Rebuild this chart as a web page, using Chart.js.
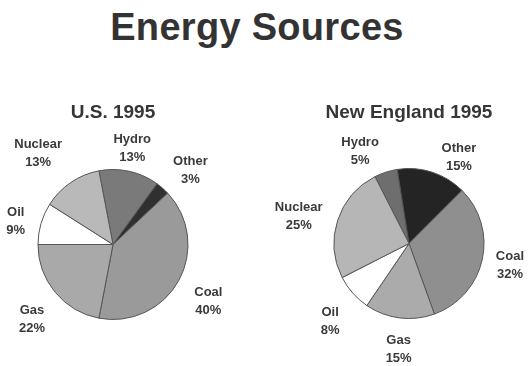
<!DOCTYPE html>
<html>
<head>
<meta charset="utf-8">
<title>Energy Sources</title>
<script src="https://cdn.jsdelivr.net/npm/chart.js@4.4.1/dist/chart.umd.min.js"></script>
<style>
  html, body { margin: 0; padding: 0; background: #fff; overflow: hidden; }
  body { width: 529px; height: 366px; position: relative; font-family: 'Liberation Sans', Arial, sans-serif; }
  h1 { position: absolute; left: 0; width: 514px; top: 6px; margin: 0; text-align: center;
       font-size: 38px; font-weight: bold; color: #333; letter-spacing: 0.3px; }
  .pie { position: absolute; top: 92px; height: 274px; }
  #usBox { left: 0; width: 240px; }
  #neBox { left: 265px; width: 264px; }
</style>
</head>
<body>
<h1>Energy Sources</h1>
<div class="pie" id="usBox"><canvas id="usChart"></canvas></div>
<div class="pie" id="neBox"><canvas id="neChart"></canvas></div>
<script>
// same category order for both pies, clockwise
const categories = ['Hydro', 'Other', 'Coal', 'Gas', 'Oil', 'Nuclear'];
const usShares = [13, 3, 40, 22, 9, 13];
const neShares = [5, 15, 32, 15, 8, 25];
const usGrays = ['#7a7a7a', '#303030', '#9a9a9a', '#a9a9a9', '#ffffff', '#b9b9b9'];
const neGrays = ['#6e6e6e', '#242424', '#8f8f8f', '#ababab', '#ffffff', '#b6b6b6'];

// name + percent written outside each slice, with a small hand nudge per label
const sliceLabels = {
  id: 'sliceLabels',
  afterDraw(chart, args, opts) {
    const ctx = chart.ctx;
    const meta = chart.getDatasetMeta(0);
    const values = chart.data.datasets[0].data;
    ctx.save();
    ctx.fillStyle = '#3a3a3a';
    ctx.font = 'bold 13px "Liberation Sans", Arial, sans-serif';
    ctx.textAlign = 'center';
    ctx.textBaseline = 'middle';
    meta.data.forEach((arc, i) => {
      const mid = (arc.startAngle + arc.endAngle) / 2;
      const dist = arc.outerRadius * opts.factor;
      const nudge = (opts.nudges && opts.nudges[i]) || [0, 0];
      const x = arc.x + Math.cos(mid) * dist + nudge[0];
      const y = arc.y + Math.sin(mid) * dist + 6 + nudge[1];
      ctx.fillText(chart.data.labels[i], x, y - 9);
      ctx.fillText(values[i] + '%', x, y + 9);
    });
    ctx.restore();
  }
};

function makePie(id, title, shares, grays, rotation, padding, nudges) {
  return new Chart(document.getElementById(id), {
    type: 'pie',
    data: {
      labels: categories,
      datasets: [{
        data: shares,
        backgroundColor: grays,
        borderColor: '#555',
        borderWidth: 1,
        radius: 75
      }]
    },
    options: {
      responsive: true,
      maintainAspectRatio: false,
      animation: false,
      rotation: rotation,
      layout: { padding: padding },
      events: [],
      plugins: {
        legend: { display: false },
        tooltip: { enabled: false },
        title: {
          display: true,
          text: title,
          color: '#363636',
          font: { family: '"Liberation Sans", Arial, sans-serif', size: 19, weight: 'bold' },
          padding: { top: 9, bottom: 4 }
        },
        sliceLabels: { factor: 1.42, nudges: nudges }
      }
    },
    plugins: [sliceLabels]
  });
}

makePie('usChart', 'U.S. 1995', usShares, usGrays, -10.8,
  { left: 0, right: 14, top: 0, bottom: 4.8 },
  [[-4, 2], [7, 0], [2, 0], [1, 1], [5, 1], [-15, -9]]);
makePie('neChart', 'New England 1995', neShares, neGrays, -27,
  { left: 24, right: 0, top: 0, bottom: 6.8 },
  [[-16, 3], [17, 9], [-3, -7], [3, -6], [1, 1], [-9, 0]]);
</script>
</body>
</html>
